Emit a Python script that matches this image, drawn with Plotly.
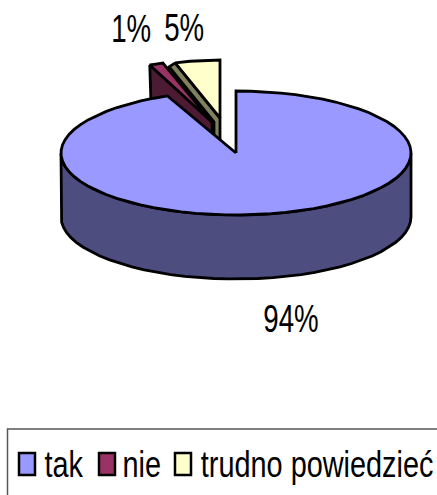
import json
import math
import plotly.graph_objects as go

categories = ["tak", "nie", "trudno powiedzieć"]
values = [93.6, 1.4, 5.0]
top_colors = ["#9999FF", "#993366", "#FFFFCC"]
side_colors = ["#4D4D80", "#4D1A33", "#80805F"]

W, H = 437, 495
CX, CY, RX, RY, DEPTH = 236, 153, 175, 62, 64
FONT = "Liberation Sans, Arial"
EDGE = dict(color="black", width=2.8)


def arc(cx, cy, rx, ry, a0, a1, step=5):
    n = max(2, int(abs(a1 - a0) / step) + 1)
    pts = [a0 + (a1 - a0) * i / n for i in range(n + 1)]
    return ([cx + rx * math.sin(math.radians(a)) for a in pts],
            [cy - ry * math.cos(math.radians(a)) for a in pts])


total = sum(values)
a_tak = 360 * values[0] / total
a_nie = a_tak + 360 * values[1] / total

fig = go.Figure()


def poly(xs, ys, color):
    fig.add_trace(go.Scatter(x=xs + xs[:1], y=ys + ys[:1], mode="lines", fill="toself",
                             fillcolor=color, line=EDGE, showlegend=False, hoverinfo="skip"))


# trudno powiedzieć (exploded slice)
yx, yy = 220, 118
ax, ay = arc(yx, yy, 145, 58, a_nie, 360, step=9)
sx, sy = -6, 4
poly([ax[0], yx, yx, yx + sx, yx + sx, ax[0] + sx],
     [ay[0], yy, yy + DEPTH, yy + DEPTH, yy + sy, ay[0] + sy], side_colors[2])
poly([yx] + ax, [yy] + ay, top_colors[2])

# nie (exploded slice)
rx0, ry0 = 212, 122
ax, ay = arc(rx0, ry0, 159, 62, a_tak, a_nie, step=2)
poly([ax[0], rx0, rx0 + 2, ax[0] + 2],
     [ay[0], ry0, ry0 + DEPTH, ay[0] + DEPTH], side_colors[1])
poly([rx0] + ax, [ry0] + ay, top_colors[1])

# tak: side wall, then top
ax, ay = arc(CX, CY, RX, RY, 90, 270)
poly(ax + ax[::-1], ay + [v + DEPTH for v in ay[::-1]], side_colors[0])
ax, ay = arc(CX, CY, RX, RY, 0, a_tak)
poly([CX] + ax, [CY] + ay, top_colors[0])

# data labels
label_pos = [(291, 318), (131, 28), (184, 27)]
for v, (lx, ly) in zip(values, label_pos):
    fig.add_annotation(x=lx, y=ly, text=f"{round(v)}%", showarrow=False,
                       font=dict(family=FONT, size=39, color="black"))

# legend: frame, keys, text
fig.add_shape(type="rect", x0=7.5, y0=429, x1=W + 10, y1=H + 10,
              line=dict(color="#555555", width=1.5), layer="below")
key_left = [19, 99, 175]
text_x = [63.5, 141.5, 316.5]
LEGEND_Y = 464
for k, color in zip(key_left, top_colors):
    fig.add_shape(type="rect", x0=k, x1=k + 16, y0=LEGEND_Y - 11, y1=LEGEND_Y + 11,
                  fillcolor=color, line=dict(color="black", width=2.5))
for name, tx in zip(categories, text_x):
    fig.add_annotation(x=tx, y=LEGEND_Y, text=name, showarrow=False,
                       font=dict(family=FONT, size=37, color="black"))

fig.update_layout(
    width=W, height=H, margin=dict(l=0, r=0, t=0, b=0), showlegend=False,
    paper_bgcolor="white", plot_bgcolor="white",
    xaxis=dict(range=[0, W], visible=False, fixedrange=True),
    yaxis=dict(range=[H, 0], visible=False, fixedrange=True),
)

# The reference type is condensed and no narrow face is installed: squeeze the real text.
post = """
document.body.style.margin = '0';
document.body.style.overflow = 'hidden';
var legendNames = %s;
document.querySelectorAll('text.annotation-text').forEach(function (t) {
  var s = legendNames.indexOf(t.textContent) >= 0 ? 0.78 : 0.71;
  t.style.transformBox = 'fill-box';
  t.style.transformOrigin = 'center';
  t.style.transform = 'scaleX(' + s + ')';
});
""" % json.dumps(categories)
fig.write_html("out.html", config=dict(displayModeBar=False), post_script=post)
